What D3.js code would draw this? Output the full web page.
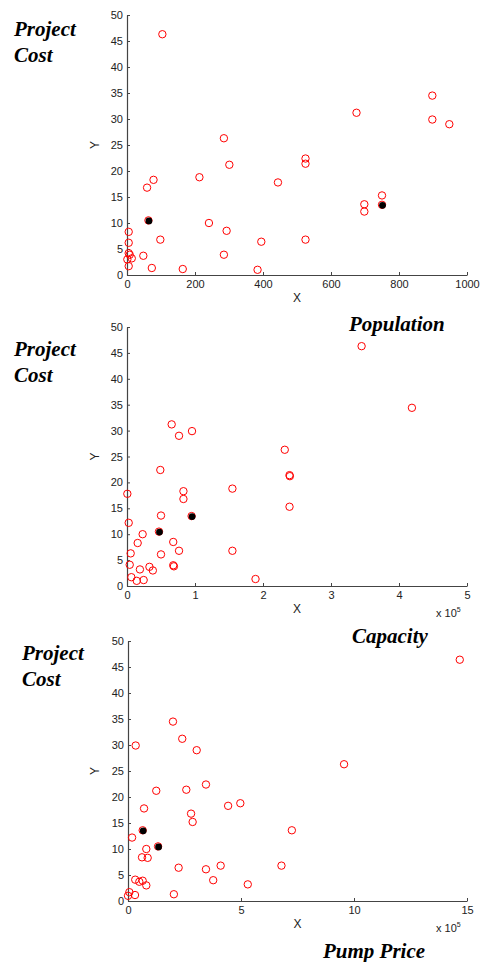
<!DOCTYPE html>
<html><head><meta charset="utf-8">
<script src="https://cdn.jsdelivr.net/npm/d3@7"></script>
<style>
html,body{margin:0;padding:0;background:#fff;}
svg{display:block;}
</style></head>
<body>
<svg id="c" width="482" height="962"></svg>
<script>
// ---------- DATA ----------
// Panel 1: Population (X) vs Project Cost (Y)
const popX = [104, 898, 675, 898, 948, 285, 525, 525, 301, 213, 78, 444, 59, 750, 698, 750, 698, 63, 241, 5, 293, 98, 525, 395, 5, 5, 8, 1, 14, 48, 285, 5, 73, 164, 384];
const popY = [46.3, 34.5, 31.2, 29.9, 29.0, 26.3, 22.4, 21.4, 21.2, 18.8, 18.3, 17.8, 16.8, 15.3, 13.6, 13.5, 12.2, 10.5, 10.0, 8.3, 8.5, 6.8, 6.8, 6.4, 6.2, 4.2, 3.9, 3.0, 3.2, 3.7, 3.9, 1.7, 1.35, 1.15, 1.0];
const popHiX = [63, 750];
const popHiY = [10.5, 13.5];

// Panel 2: Capacity (X, x 10^5) vs Project Cost (Y)
const capX = [3.45, 4.19, 0.657, 0.956, 0.765, 2.32, 0.49, 2.39, 2.395, 1.55, 0.83, 0.005, 0.83, 2.39, 0.50, 0.95, 0.025, 0.47, 0.23, 0.157, 0.68, 0.765, 1.55, 0.054, 0.50, 0.04, 0.68, 0.69, 0.19, 0.33, 0.38, 0.064, 0.143, 0.245, 1.89];
const capY = [46.3, 34.4, 31.2, 29.9, 29.0, 26.3, 22.4, 21.4, 21.2, 18.8, 18.3, 17.8, 16.8, 15.3, 13.6, 13.5, 12.2, 10.5, 10.0, 8.3, 8.5, 6.8, 6.8, 6.3, 6.1, 4.1, 4.0, 3.8, 3.2, 3.7, 3.0, 1.7, 1.0, 1.15, 1.35];
const capHiX = [0.47, 0.95];
const capHiY = [10.5, 13.5];

// Panel 3: Pump Price (X, x 10^5) vs Project Cost (Y)
const pumpX = [14.68, 1.99, 2.40, 0.34, 3.04, 9.56, 3.45, 1.25, 2.58, 4.97, 4.43, 0.71, 2.79, 2.86, 0.65, 7.25, 0.18, 1.33, 0.81, 0.62, 0.87, 2.24, 3.45, 4.10, 6.79, 0.32, 0.50, 0.65, 3.77, 0.81, 5.30, 0.06, 0.0, 0.31, 2.03];
const pumpY = [46.4, 34.5, 31.2, 29.9, 29.0, 26.3, 22.4, 21.2, 21.4, 18.8, 18.3, 17.8, 16.8, 15.2, 13.6, 13.6, 12.2, 10.5, 10.0, 8.4, 8.3, 6.4, 6.1, 6.8, 6.8, 4.1, 3.7, 3.9, 4.0, 3.0, 3.2, 1.7, 1.0, 1.15, 1.3];
const pumpHiX = [0.65, 1.33];
const pumpHiY = [13.6, 10.5];

const yTicks = [0, 5, 10, 15, 20, 25, 30, 35, 40, 45, 50];
const popTicks = [0, 200, 400, 600, 800, 1000];
const capTicks = [0, 1, 2, 3, 4, 5];
const pumpTicks = [0, 5, 10, 15];

// ---------- LAYOUT ----------
const panels = [
  {xs: popX, ys: popY, hx: popHiX, hy: popHiY, xDom: [0, 1000], xTicks: popTicks,
   x0: 127, x1: 467, yb: 275, yt: 15, exp: false,
   t1: {x: 14, y: 36}, t2: {x: 14, y: 62}},
  {xs: capX, ys: capY, hx: capHiX, hy: capHiY, xDom: [0, 5], xTicks: capTicks,
   x0: 127, x1: 467, yb: 586, yt: 327, exp: true,
   t1: {x: 14, y: 356}, t2: {x: 14, y: 382}},
  {xs: pumpX, ys: pumpY, hx: pumpHiX, hy: pumpHiY, xDom: [0, 15], xTicks: pumpTicks,
   x0: 128, x1: 467, yb: 901, yt: 641, exp: true,
   t1: {x: 22, y: 660}, t2: {x: 22, y: 686}}
];
const xNames = [{t: "Population", x: 349, y: 331}, {t: "Capacity", x: 352, y: 643}, {t: "Pump Price", x: 323, y: 958}];

const svg = d3.select("#c");
const axisColor = "#444";
const sansFont = "'Liberation Sans', Arial, Helvetica, sans-serif";
const serifFont = "'Liberation Serif', 'Times New Roman', serif";

panels.forEach(p => {
  const x = d3.scaleLinear().domain(p.xDom).range([p.x0, p.x1]);
  const y = d3.scaleLinear().domain([0, 50]).range([p.yb, p.yt]);
  const g = svg.append("g");

  const ax = g.append("g").attr("transform", `translate(0,${p.yb})`)
    .call(d3.axisBottom(x).tickValues(p.xTicks).tickSizeInner(-3).tickSizeOuter(0).tickPadding(5).tickFormat(d3.format("d")));
  const ay = g.append("g").attr("transform", `translate(${p.x0},0)`)
    .call(d3.axisLeft(y).tickValues(yTicks).tickSizeInner(-3).tickSizeOuter(0).tickPadding(4).tickFormat(d3.format("d")));
  [ax, ay].forEach(a => {
    a.select(".domain").attr("stroke", axisColor).attr("stroke-width", 1.2);
    a.selectAll(".tick line").attr("stroke", axisColor);
    a.selectAll("text").attr("fill", "#222").style("font-family", sansFont).style("font-size", "11px");
  });

  // axis labels
  g.append("text").attr("x", (p.x0 + p.x1) / 2 + 0).attr("y", p.yb + 27)
    .attr("text-anchor", "middle").style("font-family", sansFont).style("font-size", "12px").attr("fill", "#222").text("X");
  g.append("text").attr("transform", `translate(${99},${(p.yb + p.yt) / 2}) rotate(-90)`)
    .attr("text-anchor", "middle").style("font-family", sansFont).style("font-size", "12px").attr("fill", "#222").text("Y");

  if (p.exp) {
    const t = g.append("text").attr("x", p.x1 - 31).attr("y", p.yb + 31)
      .style("font-family", sansFont).style("font-size", "11px").attr("fill", "#222");
    t.append("tspan").text("x 10");
    t.append("tspan").attr("dy", -5).style("font-size", "7px").text("5");
  }

  // points
  const pts = p.xs.map((v, i) => ({x: v, y: p.ys[i]}));
  g.selectAll("circle.o").data(pts).enter().append("circle").attr("class", "o")
    .attr("cx", d => x(d.x)).attr("cy", d => y(d.y)).attr("r", 3.7)
    .attr("fill", "none").attr("stroke", "#ff0000").attr("stroke-width", 1);
  const hi = p.hx.map((v, i) => ({x: v, y: p.hy[i]}));
  g.selectAll("circle.h").data(hi).enter().append("circle").attr("class", "h")
    .attr("cx", d => x(d.x) + 0.5).attr("cy", d => y(d.y) + 0.5).attr("r", 3.4)
    .attr("fill", "#000").attr("stroke", "none");

  // titles
  [["Project", p.t1], ["Cost", p.t2]].forEach(([s, pos]) => {
    svg.append("text").attr("x", pos.x).attr("y", pos.y)
      .style("font-family", serifFont).style("font-size", "21px").style("font-weight", "bold").style("font-style", "italic")
      .attr("fill", "#000").text(s);
  });
});

xNames.forEach(n => {
  svg.append("text").attr("x", n.x).attr("y", n.y)
    .style("font-family", serifFont).style("font-size", "21px").style("font-weight", "bold").style("font-style", "italic")
    .attr("fill", "#000").text(n.t);
});
</script>
</body></html>
